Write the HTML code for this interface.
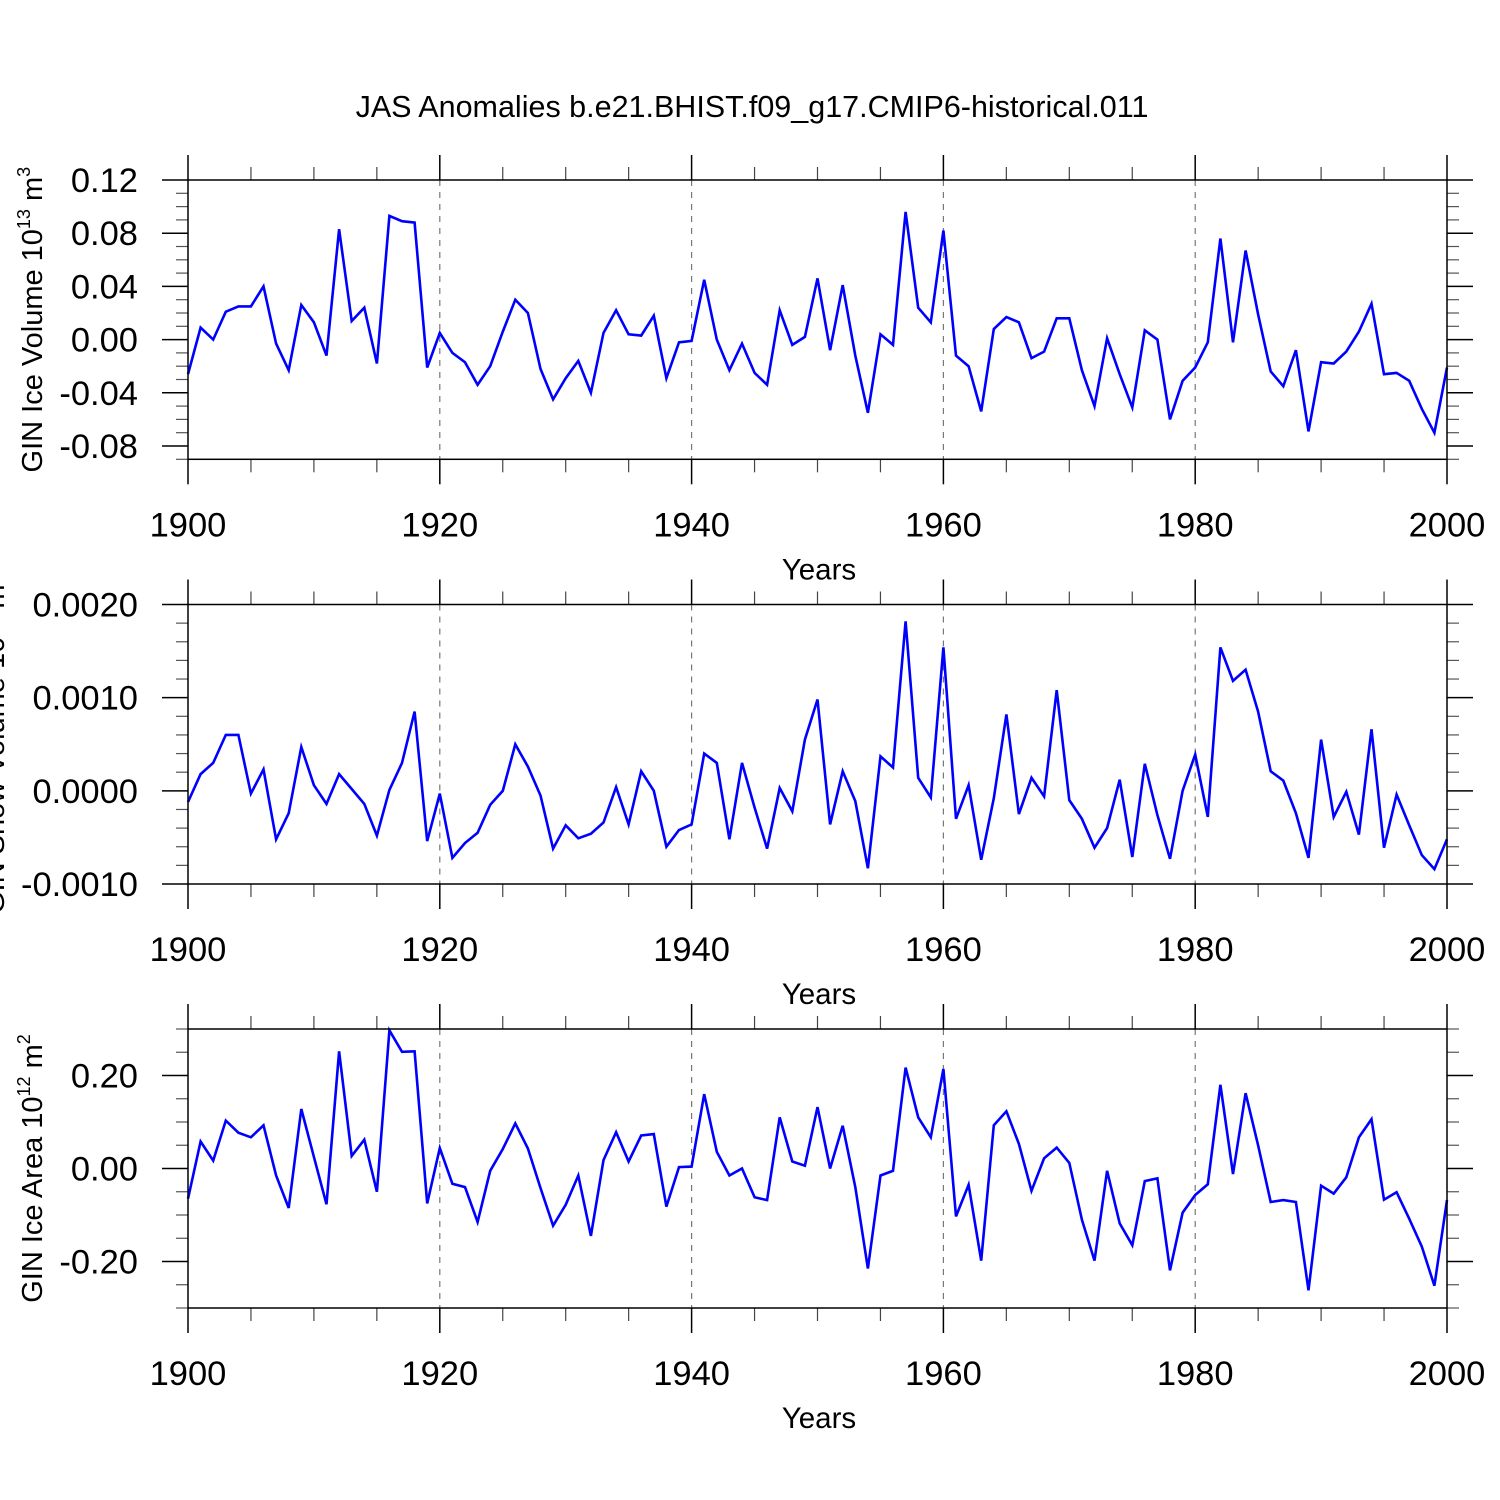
<!DOCTYPE html>
<html><head><meta charset="utf-8"><style>
html,body{margin:0;padding:0;background:#fff;}
svg{display:block;font-family:"Liberation Sans",sans-serif;}
</style></head><body>
<svg id="chart" width="1500" height="1500" viewBox="0 0 1500 1500" xmlns="http://www.w3.org/2000/svg">
<rect width="1500" height="1500" fill="#fff"/>
<text x="752" y="117" font-size="30.5" text-anchor="middle">JAS Anomalies b.e21.BHIST.f09_g17.CMIP6-historical.011</text>
</svg>
<script>
const years = [];
for (let y = 1900; y <= 2000; y++) years.push(y);
const iceVolume = [-0.026,0.009,0.000,0.021,0.025,0.025,0.040,-0.003,-0.023,0.026,0.013,-0.012,0.083,0.014,0.024,-0.018,0.093,0.089,0.088,-0.021,
0.005,-0.010,-0.017,-0.034,-0.020,0.006,0.030,0.020,-0.022,-0.045,-0.029,-0.016,-0.040,0.005,0.022,0.004,0.003,0.018,-0.029,-0.002,
-0.001,0.045,0.000,-0.023,-0.003,-0.025,-0.034,0.022,-0.004,0.002,0.046,-0.008,0.041,-0.012,-0.055,0.004,-0.004,0.096,0.024,0.013,
0.082,-0.012,-0.020,-0.054,0.008,0.017,0.013,-0.014,-0.009,0.016,0.016,-0.023,-0.050,0.001,-0.026,-0.051,0.007,0.000,-0.060,-0.031,
-0.021,-0.002,0.076,-0.002,0.067,0.019,-0.024,-0.035,-0.008,-0.069,-0.017,-0.018,-0.009,0.006,0.027,-0.026,-0.025,-0.031,-0.052,-0.070,-0.021];
const snowVolume = [-0.00012,0.00018,0.0003,0.0006,0.0006,-0.00003,0.00023,-0.00052,-0.00024,0.00047,0.00006,-0.00014,0.00018,0.00002,-0.00014,-0.00048,0.00001,0.0003,0.00085,-0.00054,
-0.00003,-0.00072,-0.00056,-0.00045,-0.00015,0.0,0.0005,0.00026,-0.00005,-0.00062,-0.00037,-0.00051,-0.00046,-0.00034,0.00004,-0.00036,0.00021,0.0,-0.0006,-0.00042,
-0.00036,0.0004,0.0003,-0.00052,0.0003,-0.00018,-0.00062,0.00003,-0.00022,0.00055,0.00098,-0.00036,0.00021,-0.00011,-0.00083,0.00037,0.00025,0.00182,0.00014,-0.00007,
0.00154,-0.0003,0.00006,-0.00074,-0.00008,0.00082,-0.00025,0.00014,-0.00006,0.00108,-0.0001,-0.0003,-0.00061,-0.0004,0.00012,-0.00071,0.00029,-0.00026,-0.00073,0.0,
0.00039,-0.00028,0.00154,0.00118,0.0013,0.00085,0.00021,0.00011,-0.00024,-0.00072,0.00055,-0.00028,-0.00001,-0.00047,0.00066,-0.00061,-0.00004,-0.00037,-0.00069,-0.00084,-0.00052];
const iceArea = [-0.065,0.058,0.017,0.103,0.077,0.067,0.093,-0.015,-0.085,0.128,0.025,-0.077,0.252,0.027,0.062,-0.050,0.297,0.251,0.252,-0.075,
0.044,-0.033,-0.040,-0.115,-0.005,0.042,0.097,0.043,-0.042,-0.123,-0.078,-0.015,-0.145,0.018,0.078,0.015,0.071,0.074,-0.082,0.003,
0.004,0.160,0.036,-0.015,0.000,-0.062,-0.068,0.110,0.015,0.006,0.132,0.000,0.092,-0.040,-0.215,-0.015,-0.005,0.217,0.110,0.067,
0.214,-0.103,-0.035,-0.198,0.093,0.123,0.053,-0.048,0.022,0.045,0.012,-0.110,-0.198,-0.005,-0.118,-0.165,-0.027,-0.021,-0.219,-0.095,
-0.057,-0.034,0.180,-0.012,0.162,0.050,-0.072,-0.068,-0.072,-0.262,-0.037,-0.054,-0.019,0.067,0.106,-0.067,-0.051,-0.108,-0.168,-0.252,-0.068];
const xTickLabels = ["1900","1920","1940","1960","1980","2000"];
const yTicks1 = [0.12,0.08,0.04,0.00,-0.04,-0.08];
const yTickLabels1 = ["0.12","0.08","0.04","0.00","-0.04","-0.08"];
const yTicks2 = [0.002,0.001,0.0,-0.001];
const yTickLabels2 = ["0.0020","0.0010","0.0000","-0.0010"];
const yTicks3 = [0.2,0.0,-0.2];
const yTickLabels3 = ["0.20","0.00","-0.20"];

const NS = "http://www.w3.org/2000/svg";
const svg = document.getElementById('chart');
const X0 = 188, X1 = 1447;
function xScale(yr){ return X0 + (yr - 1900) / 100 * (X1 - X0); }
function mk(tag, attrs, parent){
  const e = document.createElementNS(NS, tag);
  for (const k in attrs) e.setAttribute(k, attrs[k]);
  (parent || svg).appendChild(e);
  return e;
}
function panel(id, top, bottom, ymin, ymax, minorStep, ticks, tickLabels, values, ytitle, supA, unit, supB, titleX){
  const g = mk('g', {});
  
  
  const ys = v => bottom - (v - ymin) / (ymax - ymin) * (bottom - top);
  [1920,1940,1960,1980].forEach(yr => {
    const l = mk('line', {x1:xScale(yr), x2:xScale(yr), y1:top, y2:bottom, stroke:'#777', 'stroke-width':1.2, 'stroke-dasharray':'6,6'}, g);
    
    
  });
  for (let yr = 1900; yr <= 2000; yr += 5) {
    const major = yr % 20 === 0;
    const len = major ? 25 : 13;
    const x = xScale(yr);
    mk('line', {x1:x, x2:x, y1:top, y2:top-len, stroke:major?'#000':'#444', 'stroke-width':major?1.5:1.2}, g);
    mk('line', {x1:x, x2:x, y1:bottom, y2:bottom+len, stroke:major?'#000':'#444', 'stroke-width':major?1.5:1.2}, g);
  }
  const nMin = Math.round((ymax - ymin) / minorStep);
  for (let i = 0; i <= nMin; i++) {
    const v = ymin + i * minorStep;
    const y = ys(v);
    const isMajor = ticks.some(t => Math.abs(t - v) < minorStep * 0.1);
    const len = isMajor ? 26 : 12;
    mk('line', {x1:X0, x2:X0-len, y1:y, y2:y, stroke:isMajor?'#000':'#555', 'stroke-width':isMajor?1.5:1.2}, g);
    mk('line', {x1:X1, x2:X1+len, y1:y, y2:y, stroke:isMajor?'#000':'#555', 'stroke-width':isMajor?1.5:1.2}, g);
  }
  ticks.forEach((t, i) => {
    const tx = mk('text', {x:138, y:ys(t)+12, 'font-size':34.5, 'text-anchor':'end'}, g);
    
    
    tx.textContent = tickLabels[i];
  });
  xTickLabels.forEach((lab, i) => {
    const tx = mk('text', {x:xScale(1900 + i*20), y:bottom+77, 'font-size':34.5, 'text-anchor':'middle'}, g);
    
    
    tx.textContent = lab;
  });
  const xt = mk('text', {x:819, y:bottom+120, 'font-size':29.5, 'text-anchor':'middle'}, g);
  
  
  xt.textContent = 'Years';
  const cy = (top + bottom) / 2;
  const yt = mk('text', {x:0, y:0, 'font-size':29, 'text-anchor':'middle', transform:`translate(${titleX},${cy}) rotate(-90)`}, g);
  
  
  const t1 = document.createElementNS(NS,'tspan'); t1.textContent = ytitle; yt.appendChild(t1);
  const t2 = document.createElementNS(NS,'tspan'); t2.setAttribute('dy','-12'); t2.setAttribute('font-size','18'); t2.textContent = supA; yt.appendChild(t2);
  const t3 = document.createElementNS(NS,'tspan'); t3.setAttribute('dy','12'); t3.textContent = ' ' + unit; yt.appendChild(t3);
  const t4 = document.createElementNS(NS,'tspan'); t4.setAttribute('dy','-12'); t4.setAttribute('font-size','18'); t4.textContent = supB; yt.appendChild(t4);
  const pts = values.map((v, i) => xScale(years[i]).toFixed(1) + ',' + ys(v).toFixed(1)).join(' ');
  const pl = mk('polyline', {points:pts, fill:'none', stroke:'#0000ff', 'stroke-width':2.6, 'stroke-linejoin':'miter'}, g);
  
  
  const fr = mk('rect', {x:X0, y:top, width:X1-X0, height:bottom-top, fill:'none', stroke:'#000', 'stroke-width':1.5}, g);
  
  
}
panel('ice-volume', 180, 459.3, -0.09, 0.12, 0.01, yTicks1, yTickLabels1, iceVolume, 'GIN Ice Volume 10', '13', 'm', '3', 42);
panel('snow-volume', 604.5, 884, -0.001, 0.002, 0.0002, yTicks2, yTickLabels2, snowVolume, 'GIN Snow Volume 10', '13', 'm', '3', 4);
panel('ice-area', 1029, 1308, -0.3, 0.3, 0.05, yTicks3, yTickLabels3, iceArea, 'GIN Ice Area 10', '12', 'm', '2', 42);
</script>
</body></html>
